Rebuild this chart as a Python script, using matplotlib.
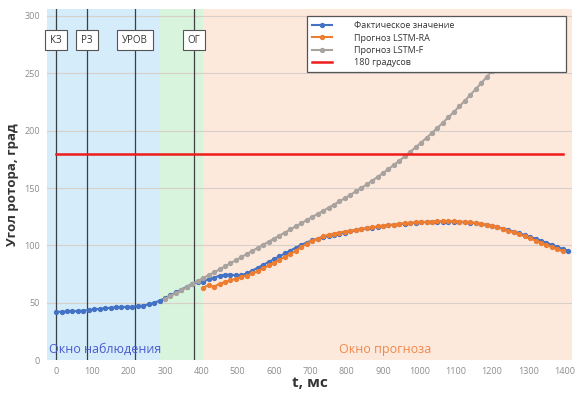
import numpy as np
import matplotlib
matplotlib.use('Agg')
import matplotlib.pyplot as plt

plt.rcParams['font.family'] = ['Open Sans', 'DejaVu Sans']

# Фактическое значение (t = 0 ... 1410 мс, шаг 15 мс)
t_fact_start, t_step = 0, 15
fact = [42.0, 42.2, 42.4, 42.6, 42.8, 43.2, 43.6, 44.2, 44.7, 45.2,
        45.6, 46.0, 46.2, 46.4, 46.6, 47.0, 47.6, 48.6, 50.0, 51.8,
        54.0, 56.5, 59.0, 61.5, 64.0, 66.5, 68.5, 68.5, 70.5, 72.0,
        73.5, 74.5, 74.5, 74.0, 74.0, 75.5, 78.0, 80.5, 83.0, 85.5,
        88.0, 90.5, 93.0, 95.5, 98.0, 100.5, 102.5, 104.3, 105.8, 107.2,
        108.3, 109.3, 110.2, 111.2, 112.2, 113.2, 114.0, 114.8, 115.5, 116.2,
        116.9, 117.5, 118.0, 118.5, 119.0, 119.4, 119.8, 120.1, 120.4, 120.6,
        120.8, 120.8, 120.8, 120.7, 120.5, 120.2, 119.8, 119.3, 118.6, 117.8,
        116.9, 115.9, 114.7, 113.4, 112.0, 110.5, 109.0, 107.4, 105.8, 104.1,
        102.3, 100.5, 98.7, 96.9, 95.2]

# Прогноз LSTM-RA (t = 405 ... 1395 мс)
t_ra_start = 405
lstm_ra = [63.0, 65.5, 64.0, 66.5, 68.0, 69.5, 71.0, 72.5, 73.5, 75.5,
           77.5, 80.0, 82.5, 85.0, 87.5, 90.0, 92.5, 95.5, 98.5, 101.5,
           104.0, 106.0, 107.8, 109.2, 110.3, 111.2, 112.0, 112.8, 113.6, 114.4,
           115.1, 115.8, 116.5, 117.1, 117.7, 118.2, 118.7, 119.2, 119.6, 120.0,
           120.3, 120.6, 120.8, 121.0, 121.1, 121.1, 121.0, 120.8, 120.5, 120.1,
           119.6, 118.9, 118.0, 117.0, 115.8, 114.4, 112.9, 111.3, 109.6, 107.9,
           106.1, 104.2, 102.3, 100.4, 98.5, 96.6, 94.7]

# Прогноз LSTM-F (t = 300 ... 1290 мс)
t_f_start = 300
lstm_f = [53.5, 56.0, 58.5, 61.0, 63.5, 66.5, 69.0, 71.5, 74.0, 76.5,
          79.0, 81.7, 84.4, 87.1, 89.8, 92.5, 95.2, 97.8, 100.5, 103.2,
          105.9, 108.5, 111.2, 113.9, 116.6, 119.3, 122.0, 124.7, 127.4, 130.1,
          132.8, 135.5, 138.3, 141.1, 144.0, 147.0, 150.0, 153.1, 156.3, 159.6,
          163.0, 166.5, 170.1, 173.8, 177.6, 181.5, 185.5, 189.6, 193.8, 198.1,
          202.5, 207.0, 211.6, 216.3, 221.1, 226.0, 231.0, 236.1, 241.3, 246.6,
          252.0, 257.5, 263.1, 268.8, 274.6, 280.5, 286.5]

t_fact = t_fact_start + t_step * np.arange(len(fact))
t_ra = t_ra_start + t_step * np.arange(len(lstm_ra))
t_f = t_f_start + t_step * np.arange(len(lstm_f))

# События и окна
events = ['КЗ', 'РЗ', 'УРОВ', 'ОГ']
event_t = [0, 85, 217, 380]
windows = [(-25, 285, '#d5ecfb'), (285, 405, '#d9f4dd'), (405, 1420, '#fde8dc')]
limit = 180

fig = plt.figure(figsize=(5.8, 3.94), dpi=100)
ax = fig.add_axes([0.081, 0.086, 0.905, 0.891])

for x0, x1, c in windows:
    ax.axvspan(x0, x1, color=c, lw=0, zorder=0)

for y in range(50, 301, 50):
    ax.axhline(y, color='#d8cfc8', lw=0.8, zorder=1)

for x in event_t:
    ax.axvline(x, color='#3c4040', lw=0.9, zorder=2)

ax.plot(t_fact, fact, '-o', color='#4472c4', ms=2.8, lw=1.5, zorder=3,
        label='Фактическое значение')
ax.plot(t_ra, lstm_ra, '-o', color='#ed7d31', ms=2.8, lw=1.5, zorder=4,
        label='Прогноз LSTM-RA')
ax.plot(t_f, lstm_f, '-o', color='#a8a39e', ms=2.8, lw=1.5, zorder=5,
        label='Прогноз LSTM-F')
ax.plot([0, 1395], [limit, limit], color='#ee1c1c', lw=1.8, zorder=6,
        label='180 градусов')

for name, x in zip(events, event_t):
    ax.text(x, 279, name, ha='center', va='center', fontsize=7,
            color='#333333', zorder=7,
            bbox=dict(boxstyle='square,pad=0.5', fc='white', ec='#555555', lw=0.8))

ax.text(134, 9, 'Окно наблюдения', ha='center', va='center', fontsize=9,
        color='#4a5bd0', zorder=7)
ax.text(907, 9, 'Окно прогноза', ha='center', va='center', fontsize=9,
        color='#f0894a', zorder=7)

ax.set_xlim(-25, 1420)
ax.set_ylim(0, 306)
ax.set_xticks(range(0, 1401, 100))
ax.set_yticks(range(0, 301, 50))
ax.tick_params(length=0, labelsize=6.5, labelcolor='#8c8c8c', pad=5)
for s in ax.spines.values():
    s.set_visible(False)

ax.set_xlabel('t, мс', fontsize=11, fontweight='bold', color='#333333', labelpad=0)
ax.set_ylabel('Угол ротора, град', fontsize=9.5, fontweight='bold', color='#333333',
              labelpad=4)

leg = ax.legend(loc='upper left', bbox_to_anchor=(0.486, 0.818, 0.512, 0.175),
                mode='expand', fontsize=6.5, handlelength=2.2, handletextpad=2.4,
                labelspacing=0.35, fancybox=False, framealpha=1, borderpad=0.6,
                edgecolor='#555555')
leg.get_frame().set_linewidth(0.9)
leg.set_zorder(10)
for txt in leg.get_texts():
    txt.set_color('#333333')

fig.savefig('out.png', dpi=100)
